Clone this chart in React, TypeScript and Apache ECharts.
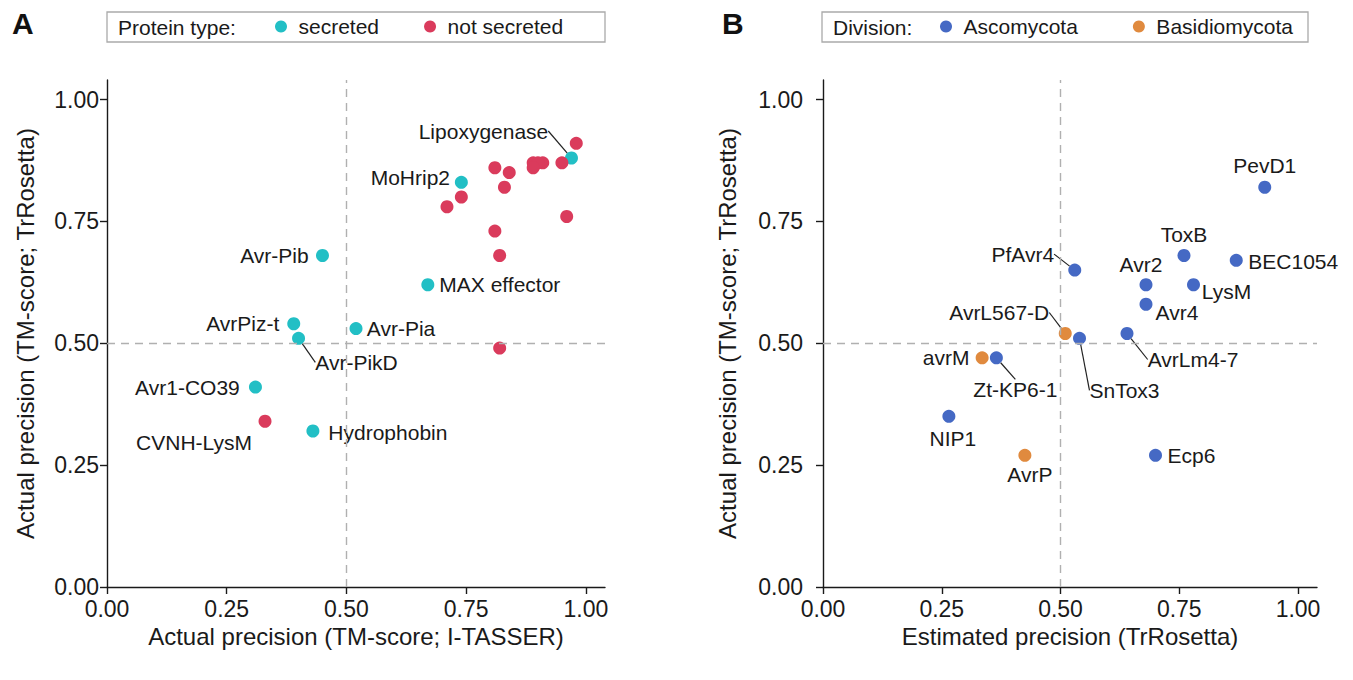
import React, { useEffect, useRef } from "react";
import * as echarts from "echarts";

// ---------- Panel A data ----------
const secretedNames = ["Lipoxygenase", "MoHrip2", "Avr-Pib", "MAX effector", "AvrPiz-t", "Avr-PikD", "Avr-Pia", "Avr1-CO39", "Hydrophobin"];
const secretedX = [0.97, 0.74, 0.45, 0.67, 0.39, 0.40, 0.52, 0.31, 0.43];
const secretedY = [0.88, 0.83, 0.68, 0.62, 0.54, 0.51, 0.53, 0.41, 0.32];

const notSecretedNames = ["", "", "", "", "", "", "", "", "", "", "", "", "", "", "", "CVNH-LysM"];
const notSecretedX = [0.98, 0.95, 0.89, 0.91, 0.90, 0.89, 0.81, 0.84, 0.83, 0.74, 0.71, 0.96, 0.81, 0.82, 0.82, 0.33];
const notSecretedY = [0.91, 0.87, 0.87, 0.87, 0.87, 0.86, 0.86, 0.85, 0.82, 0.80, 0.78, 0.76, 0.73, 0.68, 0.49, 0.34];

// ---------- Panel B data ----------
const ascoNames = ["PevD1", "ToxB", "BEC1054", "PfAvr4", "Avr2", "LysM", "Avr4", "SnTox3", "AvrLm4-7", "Zt-KP6-1", "NIP1", "Ecp6"];
const ascoX = [0.93, 0.76, 0.87, 0.53, 0.68, 0.78, 0.68, 0.54, 0.64, 0.365, 0.265, 0.70];
const ascoY = [0.82, 0.68, 0.67, 0.65, 0.62, 0.62, 0.58, 0.51, 0.52, 0.47, 0.35, 0.27];

const basidioNames = ["AvrL567-D", "avrM", "AvrP"];
const basidioX = [0.51, 0.335, 0.425];
const basidioY = [0.52, 0.47, 0.27];

// ---------- Axes ----------
const tickValues = [0, 0.25, 0.5, 0.75, 1];
const refLine = 0.5;

// label placement: [dx, dy, leader line]
const labelPlacement: Record<string, [number, number, boolean]> = {
  "Lipoxygenase": [-88, -27, true],
  "MoHrip2": [-51, -5, false],
  "Avr-Pib": [-48, 0, false],
  "MAX effector": [72, 0, false],
  "AvrPiz-t": [-51, 0, false],
  "Avr-PikD": [58, 24, true],
  "Avr-Pia": [45, 0, false],
  "Avr1-CO39": [-68, 0, false],
  "CVNH-LysM": [-71, 21, false],
  "Hydrophobin": [75, 1, false],
  "PevD1": [0, -22, false],
  "ToxB": [0, -21, false],
  "BEC1054": [57, 1, false],
  "PfAvr4": [-52, -16, true],
  "Avr2": [-5, -20, false],
  "LysM": [33, 7, false],
  "Avr4": [31, 8, false],
  "AvrL567-D": [-66, -21, true],
  "SnTox3": [45, 52, true],
  "AvrLm4-7": [66, 26, true],
  "avrM": [-36, 0, false],
  "Zt-KP6-1": [19, 32, true],
  "NIP1": [4, 22, false],
  "AvrP": [5, 19, false],
  "Ecp6": [36, 0, false],
};

const FONT = "Liberation Sans, Arial, sans-serif";
const TXT = "#1a1a1a";

function buildData(names: string[], xs: number[], ys: number[]) {
  return xs.map((x, i) => {
    const n = names[i];
    const p = labelPlacement[n];
    return {
      name: n,
      value: [x, ys[i]],
      label: { show: !!n },
      labelLine: { show: p ? p[2] : false },
    };
  });
}

function scatterSeries(name: string, color: string, idx: number, names: string[], xs: number[], ys: number[]) {
  return {
    type: "scatter",
    name,
    xAxisIndex: idx,
    yAxisIndex: idx,
    z: 3,
    symbolSize: 13,
    itemStyle: { color, opacity: 1 },
    data: buildData(names, xs, ys),
    label: {
      show: true,
      position: "inside",
      formatter: (p: any) => p.name,
      color: TXT,
      fontSize: 21,
      fontFamily: FONT,
    },
    labelLine: { show: false, lineStyle: { color: "#222", width: 1.2 } },
    labelLayout: (params: any) => {
      const n = names[params.dataIndex];
      const p = labelPlacement[n];
      if (!p) return {};
      return { dx: p[0], dy: p[1], hideOverlap: false };
    },
    emphasis: { disabled: true },
  };
}

function refSeries(idx: number) {
  return {
    type: "scatter",
    name: "ref" + idx,
    xAxisIndex: idx,
    yAxisIndex: idx,
    z: 1,
    data: [],
    markLine: {
      silent: true,
      symbol: "none",
      label: { show: false },
      lineStyle: { type: [8, 6], color: "#b0b0b0", width: 1.4 },
      data: [{ xAxis: refLine }, { yAxis: refLine }],
    },
  };
}

function axis(name: string, gridIndex: number, labelMargin: number, nameGap: number) {
  return {
    type: "value",
    gridIndex,
    min: 0,
    max: 1.04,
    name,
    nameLocation: "middle",
    nameGap,
    nameTextStyle: { color: TXT, fontSize: 24, fontFamily: FONT },
    axisLine: { show: true, onZero: false, lineStyle: { color: TXT, width: 1.4 } },
    axisTick: { show: true, length: 7, customValues: tickValues, lineStyle: { color: TXT, width: 1.4 } },
    axisLabel: {
      customValues: tickValues,
      formatter: (v: number) => v.toFixed(2),
      color: TXT,
      fontSize: 23,
      fontFamily: FONT,
      margin: labelMargin,
    },
    splitLine: { show: false },
  };
}

function legendBox(x: number, width: number, title: string) {
  return [
    {
      type: "rect",
      shape: { x, y: 12, width, height: 30 },
      style: { fill: "#fff", stroke: "#aaaaaa", lineWidth: 1.3 },
      z: 0,
    },
    {
      type: "text",
      x: x + 11,
      y: 27,
      style: { text: title, fill: TXT, font: `21px ${FONT}`, verticalAlign: "middle" },
      z: 1,
    },
  ];
}

export default function App() {
  const ref = useRef<HTMLDivElement>(null);
  useEffect(() => {
    if (!ref.current) return;
    const chart = echarts.init(ref.current, null, { renderer: "svg" });
    const legendCommon = {
      top: 11,
      icon: "circle",
      itemWidth: 25,
      itemHeight: 12,
      selectedMode: false,
      textStyle: { color: TXT, fontSize: 21, fontFamily: FONT },
      z: 5,
    };
    chart.setOption({
      animation: false,
      backgroundColor: "#ffffff",
      grid: [
        { left: 107, top: 80, width: 498, height: 507 },
        { left: 823, top: 80, width: 494, height: 507 },
      ],
      xAxis: [
        axis("Actual precision (TM-score; I-TASSER)", 0, 10, 37),
        axis("Estimated precision (TrRosetta)", 1, 10, 37),
      ],
      yAxis: [
        axis("Actual precision (TM-score; TrRosetta)", 0, 8, 70),
        axis("Actual precision (TM-score; TrRosetta)", 1, 20, 84),
      ],
      legend: [
        { ...legendCommon, left: 270, itemGap: 45, data: ["secreted", "not secreted"] },
        { ...legendCommon, left: 935, itemGap: 55, data: ["Ascomycota", "Basidiomycota"] },
      ],
      graphic: [
        ...legendBox(107, 498, "Protein type:"),
        ...legendBox(822, 486, "Division:"),
        { type: "text", x: 12, y: 8, style: { text: "A", fill: "#111", font: `bold 30px ${FONT}` } },
        { type: "text", x: 722, y: 8, style: { text: "B", fill: "#111", font: `bold 30px ${FONT}` } },
      ],
      series: [
        refSeries(0),
        refSeries(1),
        scatterSeries("secreted", "#22bfc5", 0, secretedNames, secretedX, secretedY),
        scatterSeries("not secreted", "#da3b5c", 0, notSecretedNames, notSecretedX, notSecretedY),
        scatterSeries("Ascomycota", "#4569c4", 1, ascoNames, ascoX, ascoY),
        scatterSeries("Basidiomycota", "#e08a3e", 1, basidioNames, basidioX, basidioY),
      ],
    });
    return () => chart.dispose();
  }, []);
  return <div ref={ref} style={{ position: "absolute", left: 0, top: 0, width: 1353, height: 680 }} />;
}
